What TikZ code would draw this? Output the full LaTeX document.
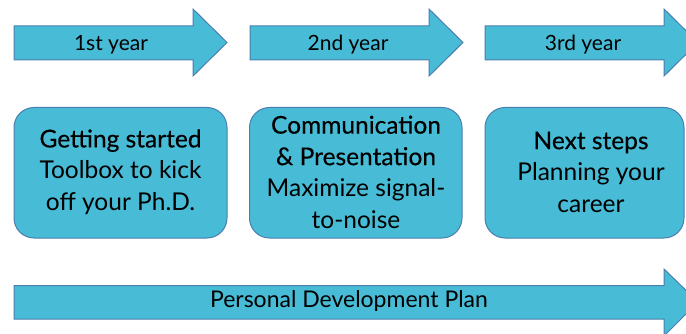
\documentclass[tikz,border=0pt]{standalone}
\usepackage{fontspec}
\setmainfont{Lato}
\newfontfamily\medfont{Lato}[BoldFont={Lato},BoldFeatures={FakeBold=0.35}]
\newcommand{\hd}[1]{{\medfont\bfseries #1}}
\definecolor{fillc}{HTML}{48BCD6}
\definecolor{edgec}{HTML}{4A7EAE}
\begin{document}
\begin{tikzpicture}[x=1pt,y=-1pt,
  shp/.style={fill=fillc,draw=edgec,line width=1pt},
  lbl/.style={inner sep=0pt,font=\fontsize{21}{25}\selectfont,text=black},
  boxtxt/.style={inner sep=0pt,align=center,font=\fontsize{24.5}{31.5}\selectfont,text=black}]
\useasboundingbox (0,0) rectangle (686,334);
% top arrows
\foreach \x/\n in {14/a1,250/a2,485/a3}{
  \draw[shp] (\x,26) -- (\x+179,26) -- (\x+179,9) -- (\x+213,42.5) -- (\x+179,76) -- (\x+179,60) -- (\x,60) -- cycle;
}
\node[lbl,anchor=base] (t1) at (111,51) {1st year};
\node[lbl,anchor=base] (t2) at (348,51) {2nd year};
\node[lbl,anchor=base] (t3) at (583,51) {3rd year};
% boxes
\draw[shp,rounded corners=20pt] (14,107.5) rectangle (227,238);
\draw[shp,rounded corners=20pt] (249.5,107.5) rectangle (462,238);
\draw[shp,rounded corners=20pt] (485,107.5) rectangle (684,238);
\node[boxtxt] (b1) at (120.5,172) {\hd{Getting started}\\Toolbox to kick\\off your Ph.D.};
\node[boxtxt] (b2) at (356,172) {\hd{Communication}\\\hd{\& Presentation}\\Maximize signal-\\to-noise};
\node[boxtxt] (b3) at (591,172) {\hd{Next steps}\\Planning your\\career};
% bottom arrow
\draw[shp] (14,285.5) -- (664,285.5) -- (664,269) -- (698,302) -- (664,336) -- (664,319) -- (14,319) -- cycle;
\node[lbl,anchor=base,font=\fontsize{23}{27}\selectfont] (pdp) at (349,307) {Personal Development Plan};
\end{tikzpicture}
\end{document}
